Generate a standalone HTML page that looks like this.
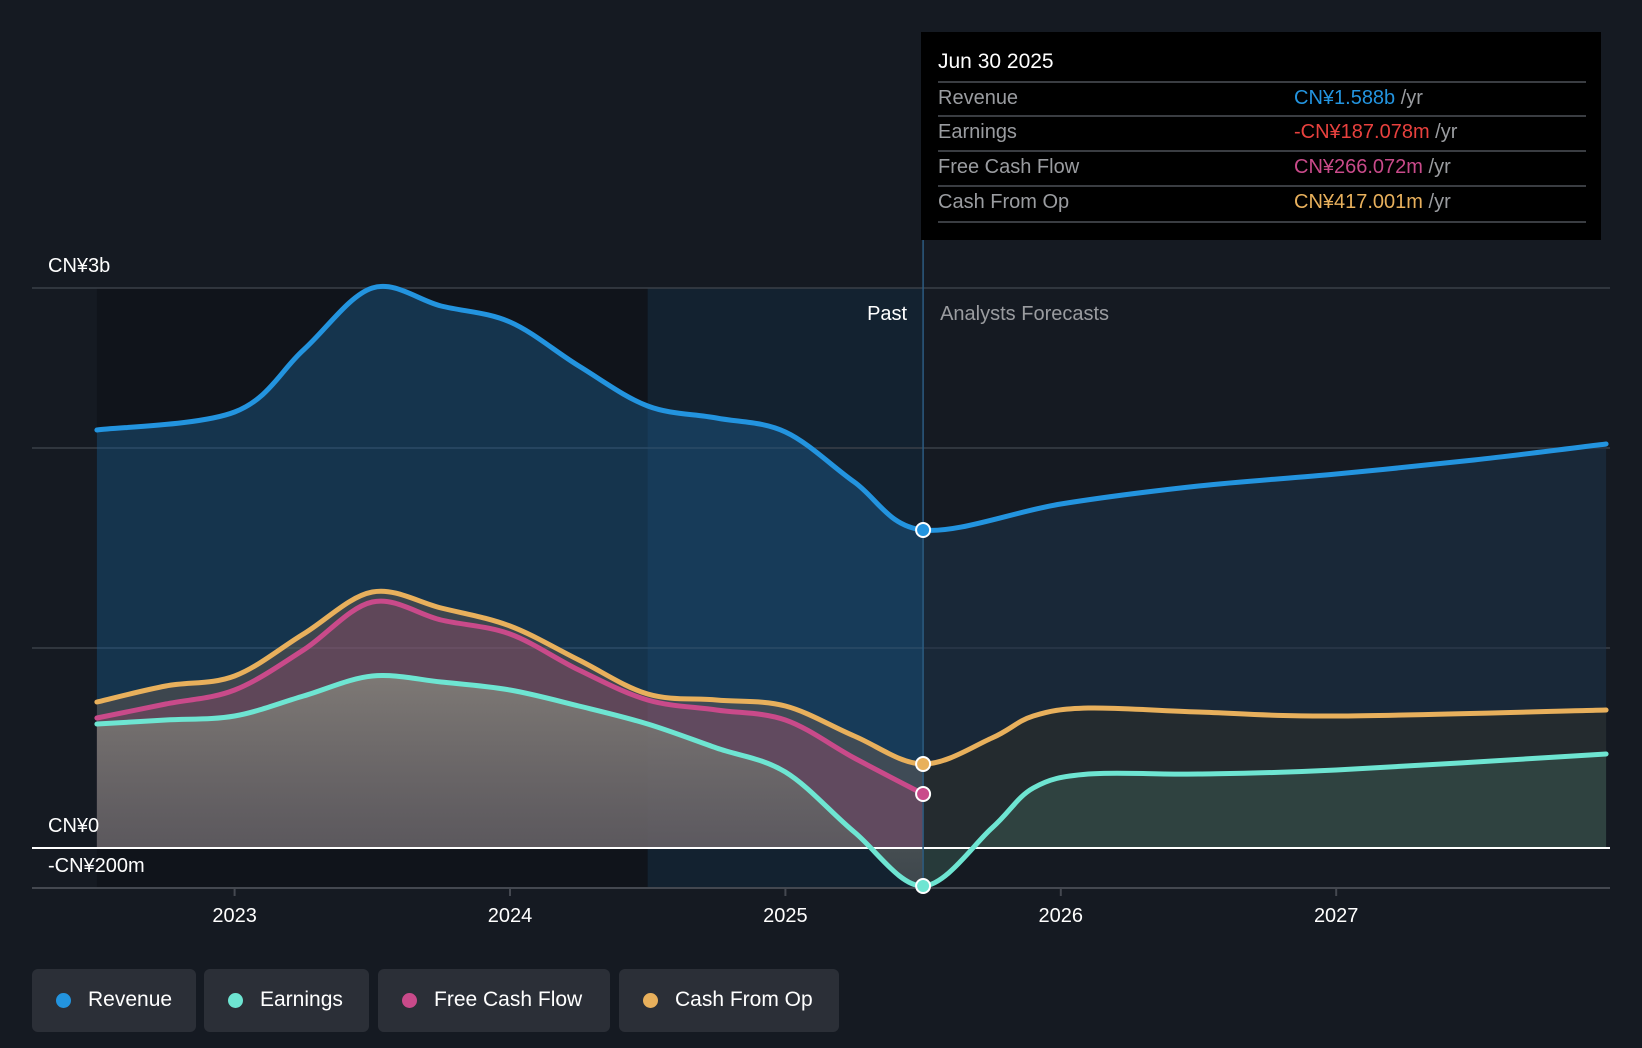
<!DOCTYPE html>
<html><head><meta charset="utf-8">
<style>
html,body{margin:0;padding:0;background:#151a22;}
body{width:1642px;height:1048px;overflow:hidden;font-family:"Liberation Sans",sans-serif;position:relative;}
svg{position:absolute;left:0;top:0;}
.tip{position:absolute;left:921px;top:32px;width:680px;height:208px;background:#000;}
.tip .d{position:absolute;left:17px;top:18px;color:#fff;font-size:21px;}
.row{position:absolute;left:17px;width:648px;height:34px;border-top:2px solid #3a3d42;font-size:20px;color:#9a9ca0;}
.row span.l{position:absolute;left:0;top:4px;}
.row span.v{position:absolute;left:356px;top:4px;}
.leg{position:absolute;top:969px;height:63px;background:#2b2f37;border-radius:6px;color:#fff;font-size:21px;}
.leg i{position:absolute;left:24px;top:24px;width:15px;height:15px;border-radius:50%;}
.leg span{position:absolute;left:56px;top:19px;}
</style></head><body>
<svg id="chart" width="1642" height="1048"></svg>
<div class="tip">
 <div class="d">Jun 30 2025</div>
 <div class="row" style="top:49px"><span class="l">Revenue</span><span class="v"><b style="font-weight:normal;color:#2394df">CN¥1.588b</b> /yr</span></div>
 <div class="row" style="top:83px"><span class="l">Earnings</span><span class="v"><b style="font-weight:normal;color:#e8413e">-CN¥187.078m</b> /yr</span></div>
 <div class="row" style="top:118px"><span class="l">Free Cash Flow</span><span class="v"><b style="font-weight:normal;color:#c94a8a">CN¥266.072m</b> /yr</span></div>
 <div class="row" style="top:153px;border-bottom:2px solid #3a3d42"><span class="l">Cash From Op</span><span class="v"><b style="font-weight:normal;color:#e8b05c">CN¥417.001m</b> /yr</span></div>
</div>
<div class="leg" style="left:32px;width:164px"><i style="background:#2394df"></i><span>Revenue</span></div>
<div class="leg" style="left:204px;width:165px"><i style="background:#6ee5d2"></i><span>Earnings</span></div>
<div class="leg" style="left:378px;width:232px"><i style="background:#c94a8a"></i><span>Free Cash Flow</span></div>
<div class="leg" style="left:619px;width:220px"><i style="background:#e8b05c"></i><span>Cash From Op</span></div>
<script>
const revT=[2022.5,2023,2023.25,2023.5,2023.75,2024,2024.25,2024.5,2024.75,2025,2025.25,2025.5,2026,2026.5,2027,2027.5,2027.98];
const revV=[2.09,2.18,2.49,2.80,2.71,2.63,2.41,2.21,2.15,2.08,1.83,1.59,1.72,1.81,1.87,1.94,2.02];
const cfoT=[2022.5,2022.75,2023,2023.25,2023.5,2023.75,2024,2024.25,2024.5,2024.75,2025,2025.25,2025.5,2025.75,2025.9,2026.1,2026.5,2027,2027.98];
const cfoV=[0.73,0.81,0.86,1.07,1.28,1.20,1.11,0.94,0.77,0.74,0.71,0.56,0.42,0.55,0.66,0.70,0.68,0.66,0.69];
const fcfT=[2022.5,2022.75,2023,2023.25,2023.5,2023.75,2024,2024.25,2024.5,2024.75,2025,2025.25,2025.5];
const fcfV=[0.65,0.72,0.79,0.99,1.23,1.14,1.07,0.89,0.74,0.69,0.64,0.45,0.27];
const earT=[2022.5,2022.75,2023,2023.25,2023.5,2023.75,2024,2024.25,2024.5,2024.75,2025,2025.25,2025.5,2025.75,2025.9,2026.1,2026.5,2027,2027.98];
const earV=[0.62,0.64,0.66,0.76,0.86,0.83,0.79,0.71,0.62,0.50,0.38,0.08,-0.19,0.10,0.30,0.37,0.37,0.39,0.47];
const yearTicks=[2023,2024,2025,2026,2027];
const yLabels=[{v:2.8,t:"CN¥3b"},{v:0,t:"CN¥0"},{v:-0.2,t:"-CN¥200m"}];
const gridVals=[2.8,2,1];
const NOW=2025.5, SPLIT=2024.5;

const X=t=>234.6+(t-2023)*275.4;
const Y=v=>848-v*200;
const NS="http://www.w3.org/2000/svg";
const svg=document.getElementById('chart');
function el(tag,a,parent){const e=document.createElementNS(NS,tag);for(const k in a)e.setAttribute(k,a[k]);(parent||svg).appendChild(e);return e;}
function path(T,V){const p=T.map((t,i)=>[X(t),Y(V[i])]);let d=`M${p[0][0]},${p[0][1]}`;
 for(let i=0;i<p.length-1;i++){const p0=p[i-1]||p[i],p1=p[i],p2=p[i+1],p3=p[i+2]||p2;
  const c1=[p1[0]+(p2[0]-p0[0])/6,p1[1]+(p2[1]-p0[1])/6],c2=[p2[0]-(p3[0]-p1[0])/6,p2[1]-(p3[1]-p1[1])/6];
  d+=`C${c1[0]},${c1[1]} ${c2[0]},${c2[1]} ${p2[0]},${p2[1]}`;}return d;}
function area(T,V){return path(T,V)+`L${X(T[T.length-1])},${Y(0)}L${X(T[0])},${Y(0)}Z`;}

const defs=el('defs',{});
defs.innerHTML=`<linearGradient id="ge" x1="0" y1="0" x2="0" y2="1"><stop offset="0" stop-color="#85857c" stop-opacity=".8"/><stop offset="1" stop-color="#505658" stop-opacity=".7"/></linearGradient>
<clipPath id="past"><rect x="0" y="0" width="${X(NOW)}" height="1048"/></clipPath>
<clipPath id="fut"><rect x="${X(NOW)}" y="0" width="1642" height="1048"/></clipPath>`;

let r=el('rect',{x:X(2022.5),y:Y(2.8),width:X(SPLIT)-X(2022.5),height:Y(-0.2)-Y(2.8),fill:'#10141b'});

r=el('rect',{x:X(SPLIT),y:Y(2.8),width:X(NOW)-X(SPLIT),height:Y(-0.2)-Y(2.8),fill:'#13283a',opacity:.6});


gridVals.forEach(v=>{const g=el('line',{x1:32,x2:1610,y1:Y(v),y2:Y(v),stroke:'#3a3f48','stroke-width':1.5});
 });

let a=el('path',{d:area(revT,revV),fill:'#1c5a8c',opacity:.45,'clip-path':'url(#past)'});

a=el('path',{d:area(revT,revV),fill:'#1d344a',opacity:.55,'clip-path':'url(#fut)'});

a=el('path',{d:area(cfoT,cfoV),fill:'#2a2c2c',opacity:.7,'clip-path':'url(#fut)'});

a=el('path',{d:area(cfoT,cfoV),fill:'#8a6a50',opacity:.35,'clip-path':'url(#past)'});

a=el('path',{d:area(fcfT,fcfV),fill:'#a04a70',opacity:.35});

a=el('path',{d:area(earT,earV),fill:'url(#ge)','clip-path':'url(#past)'});

a=el('path',{d:area(earT,earV),fill:'#3a5a52',opacity:.5,'clip-path':'url(#fut)'});


let l=el('line',{x1:32,x2:1610,y1:Y(0),y2:Y(0),stroke:'#fff','stroke-width':2});

l=el('line',{x1:32,x2:1610,y1:Y(-0.2),y2:Y(-0.2),stroke:'#444850','stroke-width':2});

l=el('line',{x1:X(NOW),x2:X(NOW),y1:240,y2:Y(-0.2),stroke:'#2b5b80','stroke-width':1.5});


const series=[[revT,revV,'#2394df','revenue-line'],[cfoT,cfoV,'#e8b05c','cfo-line'],[fcfT,fcfV,'#c94a8a','fcf-line'],[earT,earV,'#6ee5d2','earnings-line']];
series.forEach(s=>{const p=el('path',{d:path(s[0],s[1]),fill:'none',stroke:s[2],'stroke-width':5,'stroke-linecap':'round'});
 });
series.forEach(s=>{const i=s[0].indexOf(NOW);const c=el('circle',{cx:X(NOW),cy:Y(s[1][i]),r:7,fill:s[2],stroke:'#fff','stroke-width':2});
 });

yLabels.forEach(o=>{const t=el('text',{x:48,y:o.v===2.8?272:(o.v===0?832:872),fill:'#fff','font-size':20});t.textContent=o.t;
 });
yearTicks.forEach(yr=>{const tk=el('line',{x1:X(yr),x2:X(yr),y1:Y(-0.2),y2:Y(-0.2)+8,stroke:'#444850','stroke-width':2});
 
 const t=el('text',{x:X(yr),y:922,fill:'#fff','font-size':20,'text-anchor':'middle'});t.textContent=yr;
 });
let t=el('text',{x:X(NOW)-16,y:320,fill:'#fff','font-size':20,'text-anchor':'end'});t.textContent='Past';

t=el('text',{x:X(NOW)+17,y:320,fill:'#9a9ca0','font-size':20});t.textContent='Analysts Forecasts';

</script>
</body></html>
